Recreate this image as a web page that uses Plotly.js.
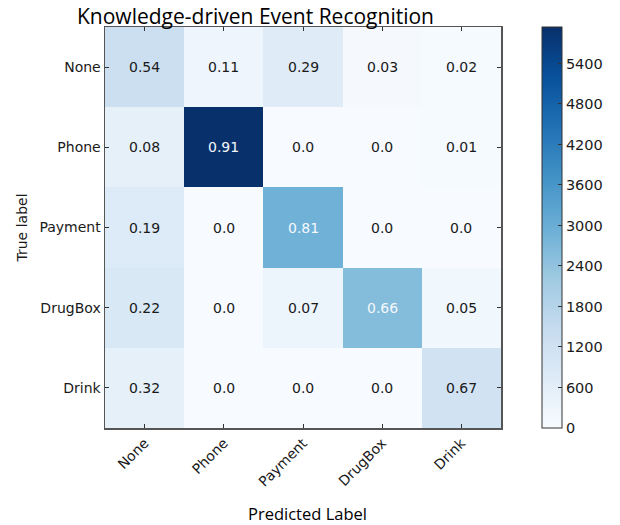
<!DOCTYPE html>
<html>
<head>
<meta charset="utf-8">
<script src="https://cdn.plot.ly/plotly-3.0.1.min.js"></script>
<style>html,body{margin:0;padding:0;background:#fff;}#chart{width:620px;height:525px;}</style>
</head>
<body>
<div id="chart"></div>
<script>
var classes = ["None", "Phone", "Payment", "DrugBox", "Drink"];
// estimated raw counts (colour)
var countsNone    = [1300, 265, 700, 72, 48];
var countsPhone   = [520, 5940, 0, 0, 65];
var countsPayment = [775, 0, 2900, 0, 0];
var countsDrugBox = [900, 0, 286, 2600, 205];
var countsDrink   = [525, 0, 0, 0, 1150];
// normalised values (shown as text)
var normNone    = [0.54, 0.11, 0.29, 0.03, 0.02];
var normPhone   = [0.08, 0.91, 0.0, 0.0, 0.01];
var normPayment = [0.19, 0.0, 0.81, 0.0, 0.0];
var normDrugBox = [0.22, 0.0, 0.07, 0.66, 0.05];
var normDrink   = [0.32, 0.0, 0.0, 0.0, 0.67];
var colorbarTicks = [0, 600, 1200, 1800, 2400, 3000, 3600, 4200, 4800, 5400];

var z = [countsNone, countsPhone, countsPayment, countsDrugBox, countsDrink];
var norm = [normNone, normPhone, normPayment, normDrugBox, normDrink];

var blues = [
  [0, '#f7fbff'], [0.125, '#deebf7'], [0.25, '#c6dbef'], [0.375, '#9ecae1'],
  [0.5, '#6baed6'], [0.625, '#4292c6'], [0.75, '#2171b5'], [0.875, '#08519c'], [1, '#08306b']
];

var annotations = [];
for (var i = 0; i < classes.length; i++) {
  for (var j = 0; j < classes.length; j++) {
    var v = norm[i][j];
    var txt = (v === 0) ? '0.0' : String(v);
    annotations.push({
      x: classes[j], y: classes[i], xref: 'x', yref: 'y', text: txt, showarrow: false,
      font: {family: 'DejaVu Sans', size: 14, color: z[i][j] > 2000 ? '#f4f8fc' : '#1a1a1a'}
    });
  }
}
annotations.push({
  text: 'Knowledge-driven Event Recognition', xref: 'paper', yref: 'paper',
  x: (257 - 105) / 401, y: 1, yanchor: 'bottom', xanchor: 'center', yshift: -5,
  showarrow: false, font: {family: 'Open Sans', size: 21, color: '#000'}
});
annotations.push({
  text: 'Predicted Label', xref: 'paper', yref: 'paper',
  x: (310 - 105) / 401, y: 0, yanchor: 'top', xanchor: 'center', yshift: -72,
  showarrow: false, font: {family: 'Open Sans', size: 16.5, color: '#000'}
});

var data = [{
  type: 'heatmap', x: classes, y: classes, z: z,
  colorscale: blues, zmin: 0, zmax: 5940, showscale: true,
  hoverinfo: 'none',
  colorbar: {
    x: (548 - 105) / 401, xanchor: 'left', xref: 'paper', xpad: 0, ypad: 0,
    y: 0.5, yanchor: 'middle', len: 1, lenmode: 'fraction', thickness: 20,
    outlinewidth: 1, outlinecolor: '#333',
    tickmode: 'array', tickvals: colorbarTicks, ticktext: colorbarTicks.map(String),
    ticks: 'inside', ticklen: 4, tickcolor: '#333',
    tickfont: {family: 'DejaVu Sans', size: 14.5, color: '#1a1a1a'}
  }
}];

var layout = {
  width: 620, height: 525,
  margin: {l: 105, r: 114, t: 27, b: 97, pad: 0},
  paper_bgcolor: '#fff', plot_bgcolor: '#fff',
  xaxis: {
    tickangle: -45, ticks: 'inside', ticklen: 4, tickcolor: '#333',
    showline: true, linecolor: '#555', linewidth: 1.5, mirror: 'allticks',
    tickfont: {family: 'DejaVu Sans', size: 14, color: '#1a1a1a'}, showgrid: false, zeroline: false
  },
  yaxis: {
    autorange: 'reversed', ticks: 'inside', ticklen: 4, tickcolor: '#333',
    showline: true, linecolor: '#555', linewidth: 1.5, mirror: 'allticks',
    tickfont: {family: 'DejaVu Sans', size: 14, color: '#1a1a1a'}, showgrid: false, zeroline: false,
    title: {text: 'True label', font: {family: 'DejaVu Sans', size: 14, color: '#1a1a1a'}, standoff: 8}
  },
  annotations: annotations,
  showlegend: false
};

Plotly.newPlot('chart', data, layout, {displayModeBar: false, staticPlot: true});
</script>
</body>
</html>
